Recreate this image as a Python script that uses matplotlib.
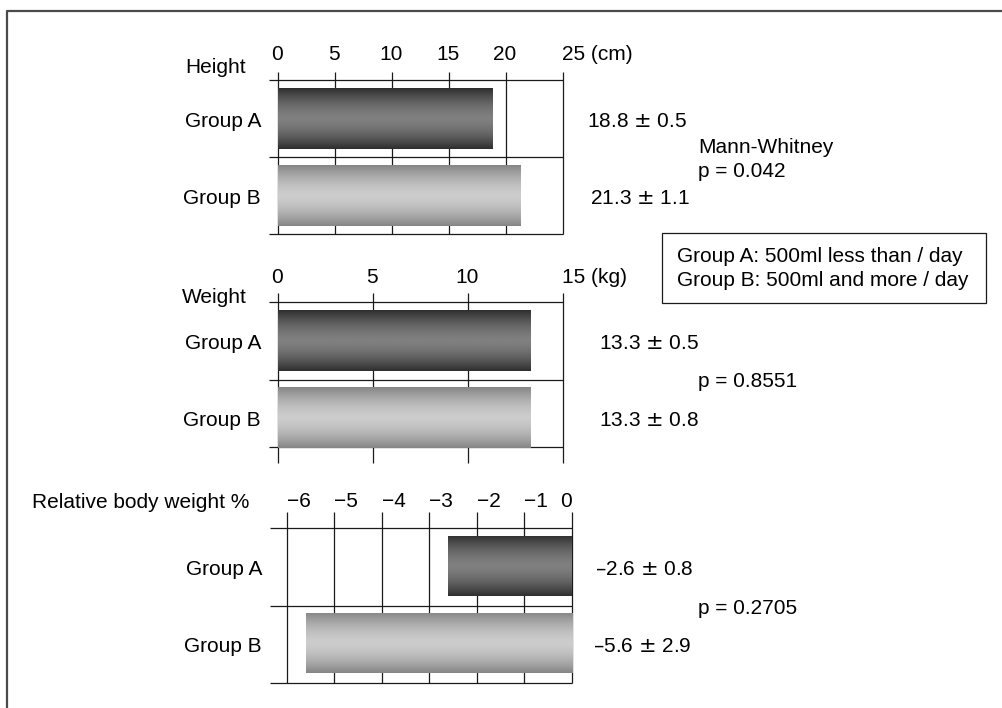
import numpy as np
import matplotlib
matplotlib.use("Agg")
import matplotlib.pyplot as plt
from matplotlib.lines import Line2D
from matplotlib.patches import Rectangle

plt.rcParams['font.family'] = ['Liberation Sans', 'DejaVu Sans']
plt.rcParams['font.size'] = 15

W, H = 1002, 708

# group summaries (mean ± SD)
groups = ['Group A', 'Group B']

height_mean = [18.8, 21.3]
height_sd = [0.5, 1.1]
height_ticks = [0, 5, 10, 15, 20, 25]

weight_mean = [13.3, 13.3]
weight_sd = [0.5, 0.8]
weight_ticks = [0, 5, 10, 15]

relbw_mean = [-2.6, -5.6]
relbw_sd = [0.8, 2.9]
relbw_ticks = [-6, -5, -4, -3, -2, -1, 0]

p_height = 0.042
p_weight = 0.8551
p_relbw = 0.2705

LINE = '#1a1a1a'
BAR_SHADES = [(0.18, 0.50), (0.52, 0.80)]   # (edge, centre) grey level per group
BAR_H = 0.78

fig = plt.figure(figsize=(W / 100, H / 100), dpi=100)


def px_axes(x0, y0, x1, y1):
    return fig.add_axes([x0 / W, 1 - y1 / H, (x1 - x0) / W, (y1 - y0) / H])


def ftext(x, y, s, **kw):
    fig.text(x / W, 1 - y / H, s, va='baseline', **kw)


def gradient_bar(ax, y, value, edge, centre):
    bar = ax.barh(y, value, height=BAR_H, color='none', edgecolor='none')[0]
    x0, y0 = bar.get_x(), bar.get_y()
    t = np.linspace(-1, 1, 256)
    g = centre - (centre - edge) * np.abs(t) ** 1.6
    img = ax.imshow(g[:, None], cmap='gray', vmin=0, vmax=1, aspect='auto',
                    extent=[x0, x0 + bar.get_width(), y0 + BAR_H, y0],
                    interpolation='bilinear', zorder=3)
    img.set_clip_path(bar)


def panel(rect, xlim, ybot, rows, bar_y, means, sds, ticks, tick_span,
          tick_lift, val_dx, unit=None, neg=False):
    ax = px_axes(*rect)
    ax.set_axis_off()
    ax.hlines(rows, xlim[0], xlim[1], colors=LINE, lw=0.9, zorder=1,
              clip_on=False)
    ax.vlines(ticks, tick_span[0], tick_span[1], colors=LINE, lw=0.9,
              zorder=1, clip_on=False)
    for i, (m, s) in enumerate(zip(means, sds)):
        gradient_bar(ax, bar_y[i], m, *BAR_SHADES[i])
        ax.annotate(groups[i], (0, bar_y[i]), xycoords=ax.get_yaxis_transform(),
                    xytext=(-8, -8.5), textcoords='offset pixels',
                    ha='right', va='baseline')
        label = f'{m:.1f} $\\pm$ {s:.1f}'.replace('-', '\u2013')
        ax.annotate(label, (1, bar_y[i]), xycoords=ax.get_yaxis_transform(),
                    xytext=(val_dx[i], -8.5), textcoords='offset pixels',
                    ha='left', va='baseline')
    for t in ticks:
        if neg:
            txt = '0' if t == 0 else f'\u2212{abs(t)}'
            ha = 'right' if t == 0 else 'left'
            dx = 0
        elif t == ticks[-1]:
            txt, ha, dx = f'{t} ({unit})', 'left', -1
        else:
            txt, ha, dx = str(t), 'center', -1
        ax.annotate(txt, (t, 1), xycoords=ax.get_xaxis_transform(),
                    xytext=(dx, tick_lift), textcoords='offset pixels',
                    ha=ha, va='baseline')
    ax.set_xlim(*xlim)
    ax.set_ylim(ybot, 0)
    return ax


# Height
panel((269, 80, 563, 234), (-0.79, 25), 2, [0, 1, 2], [0.5, 1.5],
      height_mean, height_sd, height_ticks, (-0.104, 2), 20, [24, 27], unit='cm')
ftext(185, 73, 'Height')

# Weight
panel((269, 302, 563, 447), (-0.49, 15), 1.859, [0, 1, 1.859], [0.49, 1.48],
      weight_mean, weight_sd, weight_ticks, (-0.115, 2.064), 19, [36, 36], unit='kg')
ftext(182, 303, 'Weight')

# Relative body weight
panel((270, 528.3, 571.7, 682.7), (-6.35, 0), 2, [0, 1, 2], [0.49, 1.49],
      relbw_mean, relbw_sd, relbw_ticks, (-0.215, 2), 21.6, [23, 21], neg=True)
ftext(32, 508, 'Relative body weight %')

# test results
ftext(698, 152.7, 'Mann-Whitney')
ftext(698, 176.7, f'p = {p_height}')
ftext(698, 386.7, f'p = {p_weight}')
ftext(698, 614, f'p = {p_relbw}')

# group definitions box
fig.patches.append(Rectangle((661.7 / W, 1 - 302.7 / H), 324.3 / W, 70 / H,
                             transform=fig.transFigure, fill=False,
                             edgecolor=LINE, lw=0.9))
ftext(676.7, 261.7, 'Group A: 500ml less than / day')
ftext(676.7, 286, 'Group B: 500ml and more / day')

# outer frame (top and left edges)
fig.lines.append(Line2D([7 / W, 7 / W, 1], [0, 1 - 11 / H, 1 - 11 / H],
                        transform=fig.transFigure, color='#4a4a4a', lw=1.6))

fig.savefig('out.png', dpi=100)
